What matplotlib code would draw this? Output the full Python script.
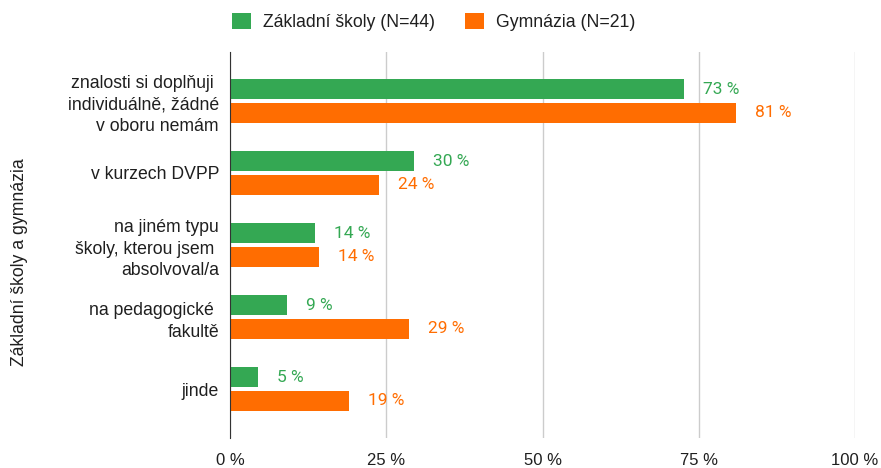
import numpy as np
import matplotlib as mlp
mlp.use('Agg')
import matplotlib.pyplot as plt

plt.rcParams['font.family'] = ['Liberation Sans', 'DejaVu Sans']

# ---- data ----
categories = [
    "znalosti si doplňuji \nindividuálně, žádné\nv oboru nemám",
    "v kurzech DVPP",
    "na jiném typu\nškoly, kterou jsem \nabsolvoval/a",
    "na pedagogické \nfakultě",
    "jinde",
]
zs_values = [72.7, 29.5, 13.6, 9.1, 4.5]
gym_values = [81.0, 23.8, 14.3, 28.6, 19.0]
series_names = ["Základní školy (N=44)", "Gymnázia (N=21)"]
xticks = [0, 25, 50, 75, 100]

green = '#34a853'
orange = '#ff6d01'
txt = '#1f1f1f'

fig = plt.figure(figsize=(8.81, 4.68), dpi=100)
ax = fig.add_axes([230 / 881, 30 / 468, 625 / 881, 386 / 468])

y = np.arange(len(categories))
h = 0.275
off = 0.165
b1 = ax.barh(y - off, zs_values, height=h, color=green, label=series_names[0], zorder=3)
b2 = ax.barh(y + off, gym_values, height=h, color=orange, label=series_names[1], zorder=3)

# value labels (round half up like the original)
for bars, vals, col in [(b1, zs_values, green), (b2, gym_values, orange)]:
    for rect, v in zip(bars, vals):
        ax.text(v + 3.0, rect.get_y() + rect.get_height() / 2, "%d %%" % int(v + 0.5),
                color=col, fontsize=12.5, va='center', ha='left', family='Roboto')

ax.set_xlim(0, 100)
ax.set_ylim(4.68, -0.68)
ax.set_xticks(xticks)
ax.set_xticklabels(["%d %%" % t for t in xticks], fontsize=12, color=txt)
ax.set_yticks(y)
ax.set_yticklabels(categories, fontsize=12.7, color=txt, linespacing=1.35)
ax.tick_params(axis='both', length=0)
ax.tick_params(axis='x', pad=11)
ax.tick_params(axis='y', pad=8)

ax.grid(axis='x', color='#cccccc', linewidth=1, zorder=0)
for s in ['top', 'right', 'bottom']:
    ax.spines[s].set_visible(False)
ax.spines['left'].set_color('#333333')
ax.spines['left'].set_zorder(4)

fig.text(20 / 881, 1 - 262 / 468, "Základní školy a gymnázia", rotation=90,
         fontsize=12.7, color=txt, ha='center', va='center')

fig.legend(handles=[b1, b2], labels=series_names, loc='center',
           bbox_to_anchor=(434 / 881, 1 - 22 / 468), ncol=2, frameon=False,
           fontsize=12.7, handlelength=1.05, handleheight=1.05, columnspacing=1.7,
           handletextpad=0.7, labelcolor=txt)

fig.savefig('out.png', dpi=100)
